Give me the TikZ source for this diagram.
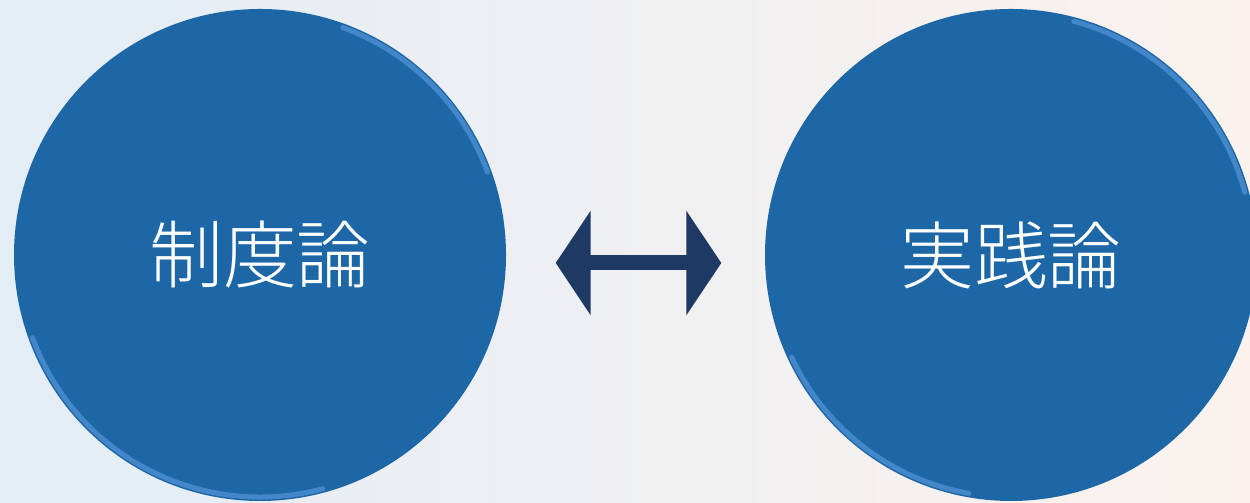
\documentclass[tikz,border=0pt]{standalone}
\usepackage{fontspec}
\newfontfamily\jpfont{Noto Sans CJK JP}[UprightFont={* Light}]
\usetikzlibrary{arrows.meta,calc,positioning}
\definecolor{dblue}{RGB}{30,103,166}
\definecolor{rimblue}{RGB}{84,150,218}
\definecolor{dnavy}{RGB}{31,57,101}
\definecolor{bgblue}{RGB}{227,237,246}
\definecolor{bgpink}{RGB}{246,236,238}
\definecolor{bgpeach}{RGB}{251,242,237}
\tikzset{
  bubble/.style={circle,fill=dblue,minimum size=49.2mm,inner sep=0pt,
    text=white,font=\jpfont\fontsize{21pt}{21pt}\selectfont},
  rim/.style={rimblue,line width=0.5mm,opacity=0.7,line cap=round},
  twoway/.style={{Triangle[length=3.5mm,width=10.3mm]}-{Triangle[length=3.5mm,width=10.3mm]},
    line width=1.5mm,dnavy}
}

\begin{document}
\begin{tikzpicture}[x=0.1mm,y=0.1mm]
  \useasboundingbox (0,0) rectangle (1250,503);
  \shade[left color=bgblue,middle color=bgpink,right color=bgpeach] (0,0) rectangle (1250,503);
  \node[bubble] (inst) at (260,248) {制度論};
  \node[bubble] (prac) at (1011,248) {実践論};
  % bevel highlights
  \draw[rim] ($(inst.center)+(200:24.2mm)$) arc (200:285:24.2mm);
  \draw[rim] ($(inst.center)+(20:24.2mm)$) arc (20:70:24.2mm);
  \draw[rim] ($(prac.center)+(15:24.2mm)$) arc (15:75:24.2mm);
  \draw[rim] ($(prac.center)+(205:24.2mm)$) arc (205:260:24.2mm);
  \path (inst.east) ++(49,-8) coordinate (lt);
  \path (prac.west) ++(-43,-8) coordinate (rt);
  \draw[twoway] (lt) -- (rt);
\end{tikzpicture}
\end{document}
